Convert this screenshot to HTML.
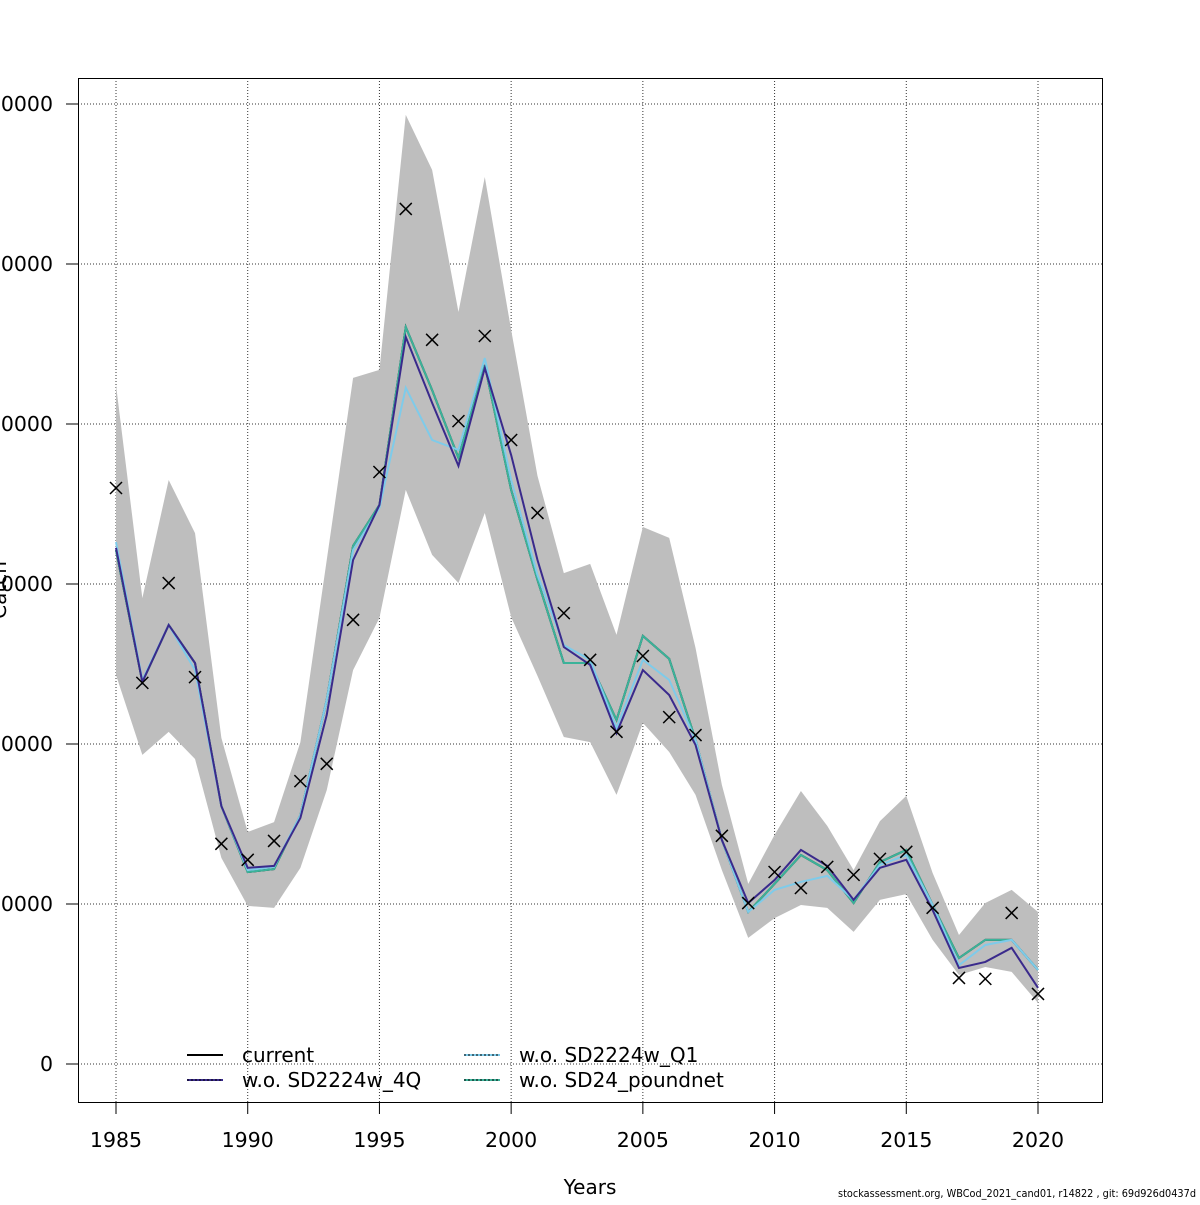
<!DOCTYPE html>
<html><head><meta charset="utf-8"><style>
body{margin:0;background:#fff;width:1200px;height:1200px;overflow:hidden}
svg text{font-family:"DejaVu Sans","Liberation Sans",sans-serif;fill:#000}
</style></head><body>
<svg id="chart" width="1200" height="1200" xmlns="http://www.w3.org/2000/svg">
<g id="grid"></g>
<g id="band"></g>
<g id="lines"></g>
<g id="pts"></g>
<g id="axes"></g>
<rect x="78.5" y="78.5" width="1024" height="1024" fill="none" stroke="#000" stroke-width="1"/>
<text x="590" y="1194" font-size="20" text-anchor="middle">Years</text>
<text transform="translate(6,590) rotate(-90)" font-size="20" text-anchor="middle">Catch</text>
<text x="838" y="1197" font-size="11" textLength="358" lengthAdjust="spacingAndGlyphs">stockassessment.org, WBCod_2021_cand01, r14822 , git: 69d926d0437d</text>
<g font-size="20">
<line x1="187" y1="1055" x2="223" y2="1055" stroke="#000" stroke-width="2"/>
<text x="242" y="1062">current</text>
<line x1="187" y1="1080" x2="223" y2="1080" stroke="#3a2a8c" stroke-width="2"/>
<line x1="187" y1="1080" x2="223" y2="1080" stroke="#000" stroke-width="1" stroke-dasharray="2,2"/>
<text x="242" y="1087">w.o. SD2224w_4Q</text>
<line x1="464" y1="1055" x2="500" y2="1055" stroke="#7ecbea" stroke-width="2"/>
<line x1="464" y1="1055" x2="500" y2="1055" stroke="#000" stroke-width="1" stroke-dasharray="2,2"/>
<text x="519" y="1062">w.o. SD2224w_Q1</text>
<line x1="464" y1="1080" x2="500" y2="1080" stroke="#3bb39a" stroke-width="2"/>
<line x1="464" y1="1080" x2="500" y2="1080" stroke="#000" stroke-width="1" stroke-dasharray="2,2"/>
<text x="519" y="1087">w.o. SD24_poundnet</text>
</g>
</svg>
<script>
const years=[1985,1986,1987,1988,1989,1990,1991,1992,1993,1994,1995,1996,1997,1998,1999,2000,2001,2002,2003,2004,2005,2006,2007,2008,2009,2010,2011,2012,2013,2014,2015,2016,2017,2018,2019,2020];
const current=[160.6,119.4,137.2,125.3,80.6,60.0,60.9,77.8,113.8,161.9,174.7,230.3,210.6,189.4,218.4,179.4,151.3,125.3,125.3,107.5,133.8,126.6,101.3,70.0,47.5,56.3,65.3,60.6,50.3,63.1,66.9,49.7,33.1,38.8,38.8,29.4];
const wo4Q=[161.3,119.4,137.2,125.3,80.6,61.3,61.9,76.9,109.1,157.5,174.7,227.2,206.6,186.9,217.5,190.3,157.5,130.3,124.7,103.4,123.1,115.3,99.7,70.0,50.3,57.5,66.9,61.9,51.3,61.3,63.8,48.1,30.0,31.9,36.3,23.8];
const woQ1=[163.1,120.0,137.2,123.1,80.6,60.6,61.6,77.8,113.8,160.6,173.8,211.3,195.0,191.9,220.6,182.5,152.8,130.9,126.3,105.0,126.3,120.0,101.3,70.0,47.5,54.4,56.9,58.8,51.3,62.2,65.3,49.7,30.9,37.2,38.8,29.4];
const woPound=current.slice();
const observed=[180.0,119.1,150.3,120.9,68.8,63.8,69.7,88.4,93.8,138.8,185.0,267.2,226.3,200.9,227.5,195.0,172.2,140.9,126.3,103.8,127.5,108.4,102.8,71.3,50.3,60.0,55.0,61.6,59.1,64.1,66.3,48.8,26.9,26.6,47.2,21.9];
const upper=[212.2,145.6,182.5,165.9,101.9,72.5,75.6,100.6,157.5,214.4,216.9,296.6,279.4,235.0,277.2,229.4,183.8,153.4,156.3,134.1,167.8,164.4,130.0,87.2,56.3,71.6,85.3,74.4,60.6,75.9,83.8,59.7,40.3,50.3,54.4,47.5];
const lower=[121.6,96.6,103.8,95.3,64.4,49.4,48.8,61.3,85.6,123.1,139.4,179.4,159.1,150.3,172.2,139.7,121.3,102.2,100.6,84.1,106.6,97.5,84.1,60.6,39.4,45.6,49.7,48.8,41.3,51.3,53.1,38.8,27.8,30.3,28.8,19.1];
const xTicks=[1985,1990,1995,2000,2005,2010,2015,2020];
const yTicks=[0,50,100,150,200,250,300];
const yTickLabels=["0","50000","100000","150000","200000","250000","300000"];

const X=v=>116+(v-1985)*(1038-116)/35;
const Y=v=>1064-v*160/50;
const NS="http://www.w3.org/2000/svg";
function mk(tag,attrs,parent){const e=document.createElementNS(NS,tag);for(const k in attrs)e.setAttribute(k,attrs[k]);parent.appendChild(e);return e;}
const grid=document.getElementById('grid'),axes=document.getElementById('axes');
xTicks.forEach(t=>{
  const g=mk('line',{x1:X(t),x2:X(t),y1:78,y2:1102,stroke:'#333','stroke-dasharray':'1,2','stroke-width':1},grid);
  
  
  const tk=mk('line',{x1:X(t),x2:X(t),y1:1102,y2:1114,stroke:'#000'},axes);
  
  
  const lb=mk('text',{x:X(t),y:1147,'font-size':20.5,'text-anchor':'middle'},axes);lb.textContent=t;
  
  
});
yTicks.forEach((t,i)=>{
  const g=mk('line',{x1:78,x2:1102,y1:Y(t),y2:Y(t),stroke:'#333','stroke-dasharray':'1,2','stroke-width':1},grid);
  
  
  const tk=mk('line',{x1:66,x2:78,y1:Y(t),y2:Y(t),stroke:'#000'},axes);
  
  
  const lb=mk('text',{x:53,y:Y(t)+7,'font-size':20.5,'text-anchor':'end'},axes);lb.textContent=yTickLabels[i];
  
  
});
let d='';years.forEach((y,i)=>d+=(i?'L':'M')+X(y)+','+Y(upper[i]));
for(let i=years.length-1;i>=0;i--)d+='L'+X(years[i])+','+Y(lower[i]);
const band=mk('path',{d:d+'Z',fill:'#bebebe'},document.getElementById('band'));


const lines=document.getElementById('lines');
function line(arr,col,name,w){
  const p=mk('polyline',{points:years.map((y,i)=>X(y)+','+Y(arr[i])).join(' '),fill:'none',stroke:col,'stroke-width':w},lines);
  
  
}
line(current,'#000','current-line',2);
line(woPound,'#3bb39a','wo-sd24-poundnet-line',2);
line(woQ1,'#7ecbea','wo-sd2224w-q1-line',2);
line(wo4Q,'#3a2a8c','wo-sd2224w-4q-line',2);
const pts=document.getElementById('pts');
years.forEach((y,i)=>{
  const cx=X(y),cy=Y(observed[i]),s=6;
  const p=mk('path',{d:`M${cx-s},${cy-s}L${cx+s},${cy+s}M${cx-s},${cy+s}L${cx+s},${cy-s}`,stroke:'#000','stroke-width':1.5},pts);
  
  
});
</script>
</body></html>
